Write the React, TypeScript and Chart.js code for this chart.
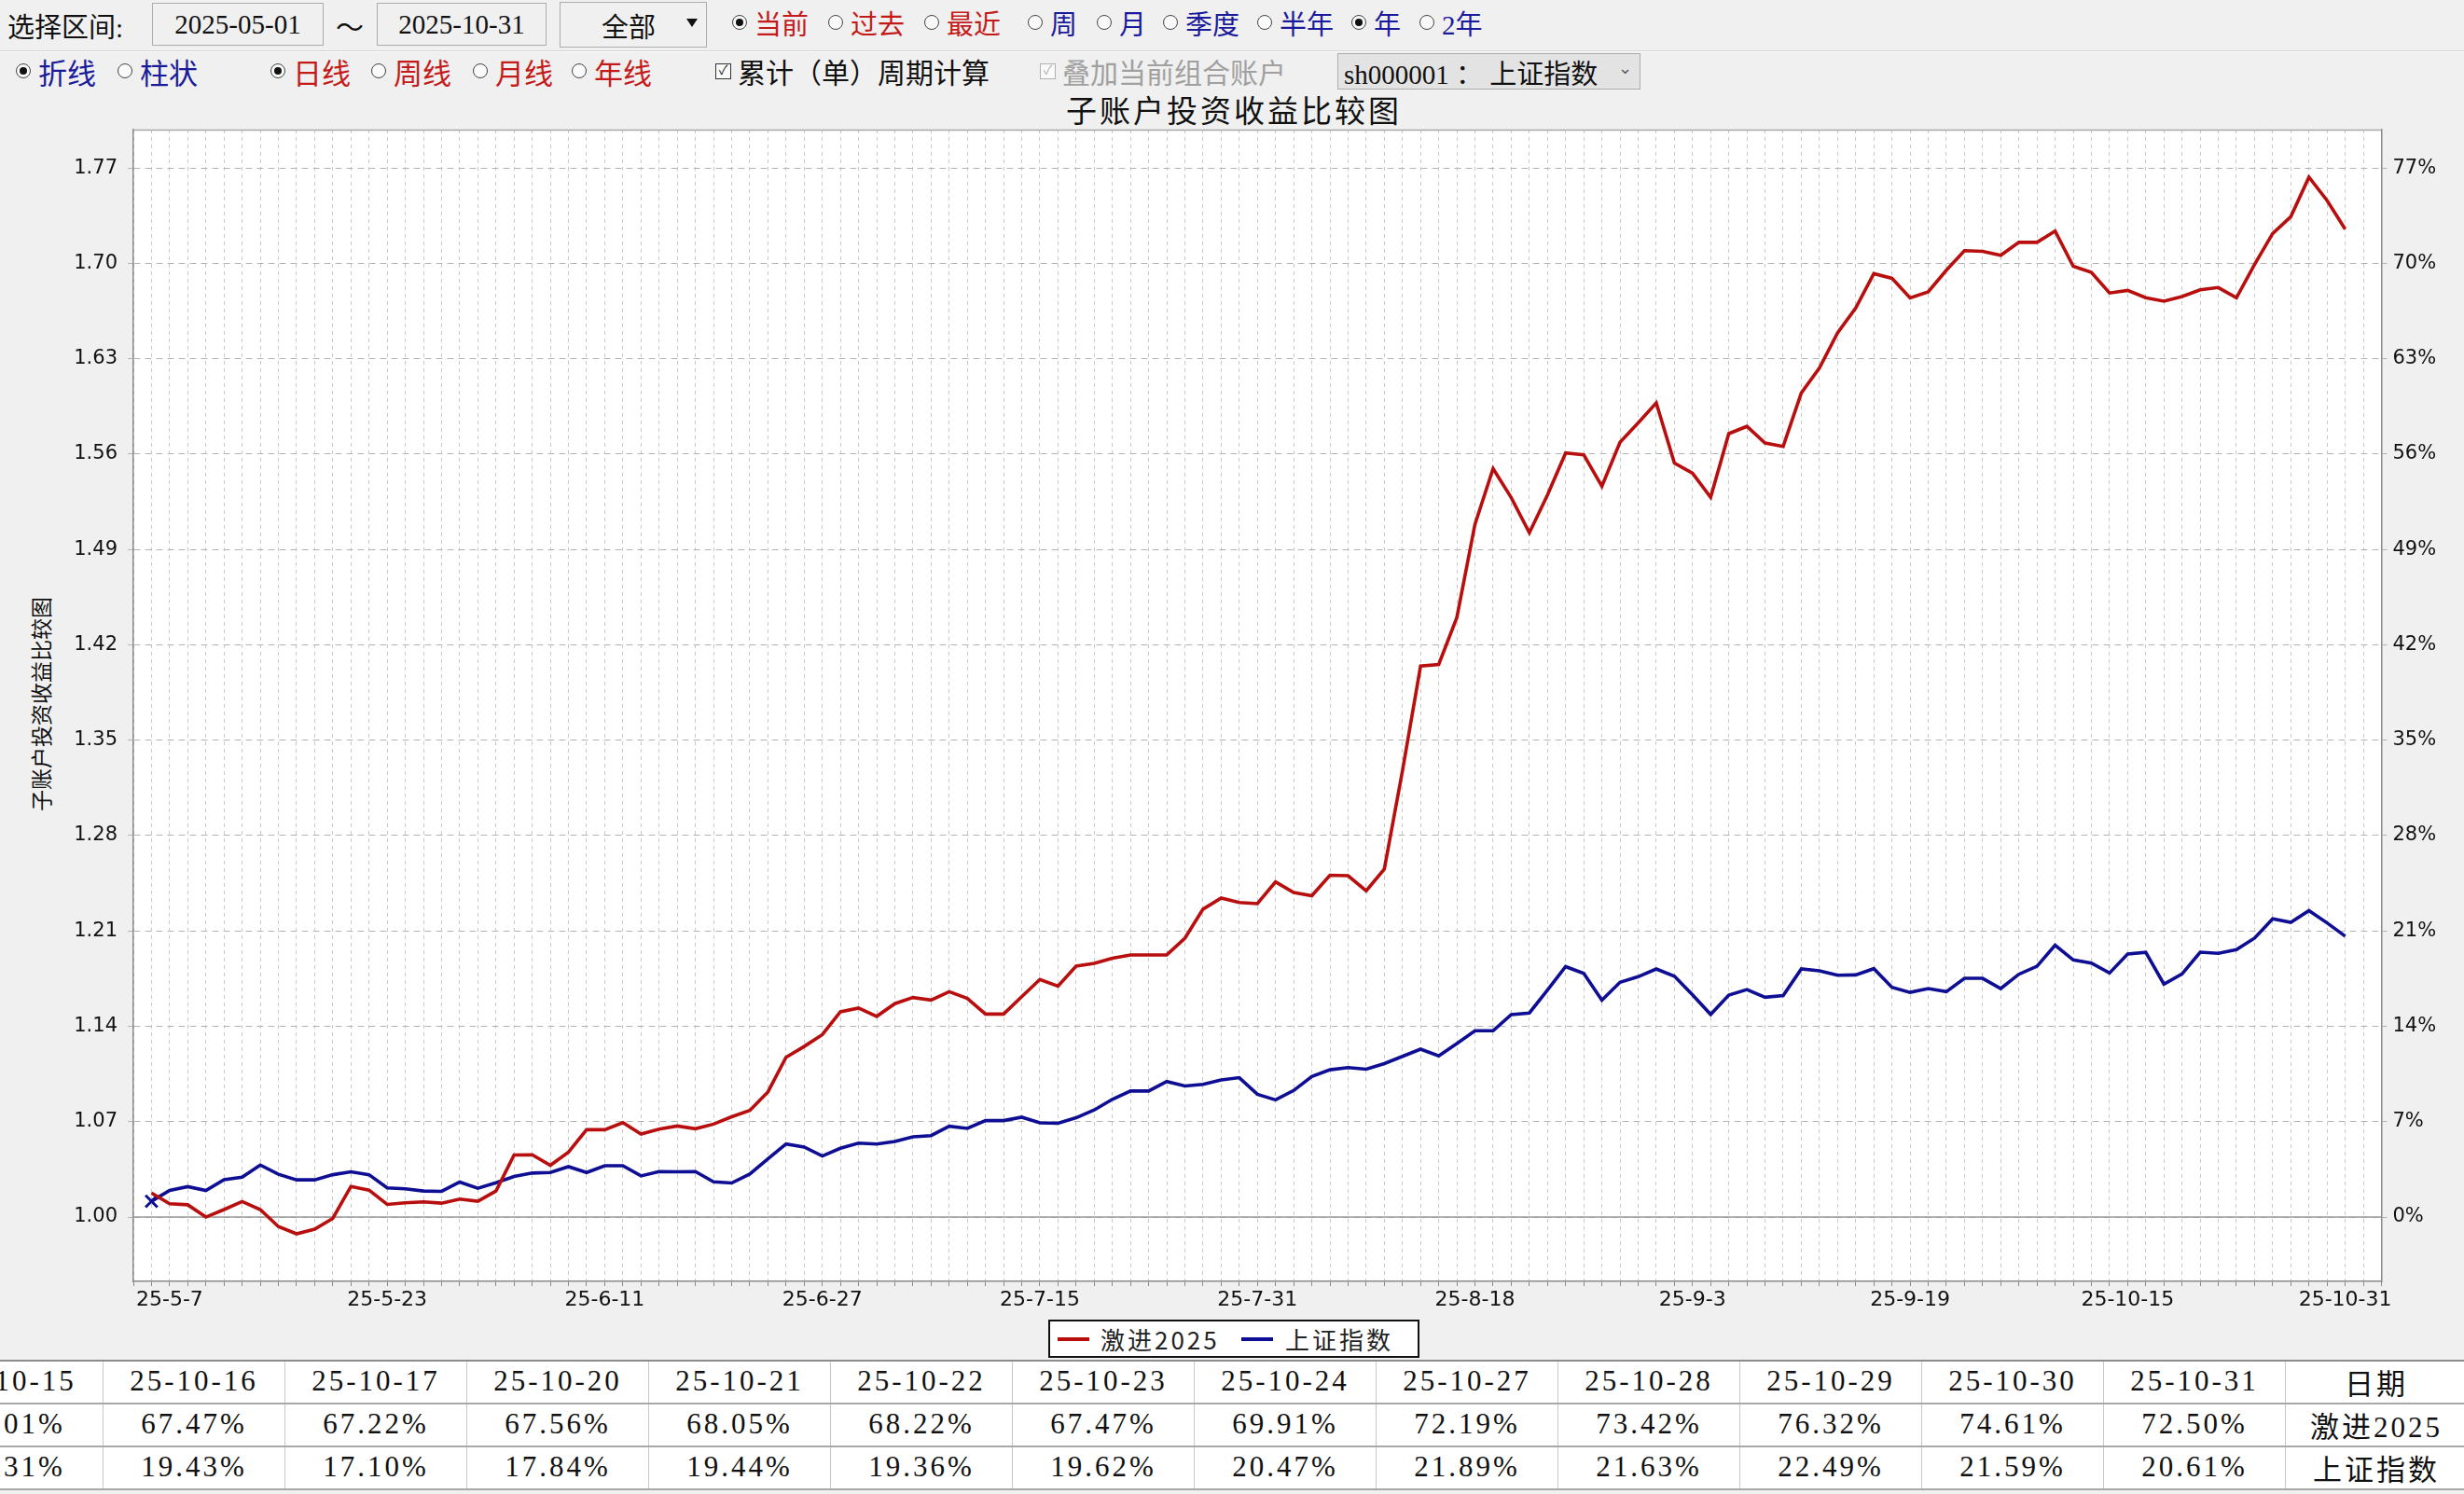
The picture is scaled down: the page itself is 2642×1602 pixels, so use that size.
import React, { useEffect, useRef } from 'react';
import { Chart, registerables } from 'chart.js';

Chart.register(...registerables);

// ---------- data ----------
const mayDays = [6, 7, 8, 9, 12, 13, 14, 15, 16, 19, 20, 21, 22, 23, 26, 27, 28, 29, 30];
const junDays = [3, 4, 5, 6, 9, 10, 11, 12, 13, 16, 17, 18, 19, 20, 23, 24, 25, 26, 27, 30];
const julDays = [1, 2, 3, 4, 7, 8, 9, 10, 11, 14, 15, 16, 17, 18, 21, 22, 23, 24, 25, 28, 29, 30, 31];
const augDays = [1, 4, 5, 6, 7, 8, 11, 12, 13, 14, 15, 18, 19, 20, 21, 22, 25, 26, 27, 28, 29];
const sepDays = [1, 2, 3, 4, 5, 8, 9, 10, 11, 12, 15, 16, 17, 18, 19, 22, 23, 24, 25, 26, 29, 30];
const octDays = [9, 10, 13, 14, 15, 16, 17, 20, 21, 22, 23, 24, 27, 28, 29, 30, 31];

const dates: string[] = [
  ...mayDays.map((d) => `25-5-${d}`),
  ...junDays.map((d) => `25-6-${d}`),
  ...julDays.map((d) => `25-7-${d}`),
  ...augDays.map((d) => `25-8-${d}`),
  ...sepDays.map((d) => `25-9-${d}`),
  ...octDays.map((d) => `25-10-${d}`),
];

const seriesNames = ['激进2025', '上证指数'];

const aggressive2025 = [
  1.0177, 1.0098, 1.0090, 1.0000, 1.0055, 1.0114, 1.0055, 0.9930, 0.9877, 0.9911,
  0.9990, 1.0225, 1.0198, 1.0093, 1.0105, 1.0111, 1.0102, 1.0132, 1.0116, 1.0191,
  1.0455, 1.0457, 1.0380, 1.0477, 1.0641, 1.0641, 1.0693, 1.0609, 1.0645, 1.0668,
  1.0648, 1.0682, 1.0736, 1.0782, 1.0918, 1.1173, 1.1252, 1.1339, 1.1507, 1.1534,
  1.1473, 1.1566, 1.1611, 1.1593, 1.1654, 1.1605, 1.1490, 1.1490, 1.1617, 1.1744,
  1.1695, 1.1842, 1.1862, 1.1899, 1.1924, 1.1924, 1.1924, 1.2047, 1.2260, 1.2341,
  1.2309, 1.2300, 1.2460, 1.2382, 1.2358, 1.2509, 1.2505, 1.2395, 1.2554, 1.3275,
  1.4044, 1.4056, 1.4400, 1.5084, 1.5493, 1.5280, 1.5022, 1.5300, 1.5608, 1.5595,
  1.5363, 1.5686, 1.5828, 1.5975, 1.5534, 1.5460, 1.5282, 1.5750, 1.5803, 1.5681,
  1.5656, 1.6048, 1.6232, 1.6489, 1.6672, 1.6924, 1.6890, 1.6746, 1.6790, 1.6949,
  1.7093, 1.7088, 1.7059, 1.7154, 1.7154, 1.7237, 1.6978, 1.6934, 1.6782, 1.6801,
  1.6747, 1.6722, 1.6756, 1.6805, 1.6822, 1.6747, 1.6991, 1.7219, 1.7342, 1.7632,
  1.7461, 1.7250,
];

const shIndex = [
  1.0116, 1.0195, 1.0223, 1.0195, 1.0275, 1.0293, 1.0382, 1.0314, 1.0273, 1.0273,
  1.0311, 1.0332, 1.0311, 1.0214, 1.0207, 1.0191, 1.0189, 1.0257, 1.0211, 1.0252,
  1.0298, 1.0323, 1.0327, 1.0370, 1.0327, 1.0377, 1.0377, 1.0302, 1.0334, 1.0332,
  1.0334, 1.0259, 1.0250, 1.0316, 1.0427, 1.0536, 1.0514, 1.0448, 1.0505, 1.0543,
  1.0536, 1.0555, 1.0589, 1.0598, 1.0667, 1.0651, 1.0708, 1.0708, 1.0733, 1.0692,
  1.0688, 1.0729, 1.0786, 1.0864, 1.0925, 1.0925, 1.0995, 1.0962, 1.0974, 1.1007,
  1.1023, 1.0901, 1.0860, 1.0929, 1.1031, 1.1081, 1.1097, 1.1085, 1.1126, 1.1179,
  1.1232, 1.1183, 1.1273, 1.1367, 1.1367, 1.1486, 1.1498, 1.1666, 1.1838, 1.1788,
  1.1592, 1.1723, 1.1764, 1.1821, 1.1768, 1.1631, 1.1487, 1.1629, 1.1670, 1.1613,
  1.1626, 1.1821, 1.1807, 1.1775, 1.1777, 1.1823, 1.1686, 1.1649, 1.1677, 1.1654,
  1.1752, 1.1752, 1.1677, 1.1782, 1.1841, 1.1995, 1.1887, 1.1864, 1.1791, 1.1931,
  1.1943, 1.1710, 1.1784, 1.1944, 1.1936, 1.1962, 1.2047, 1.2189, 1.2163, 1.2249,
  1.2159, 1.2061,
];

const yTicks = [1.0, 1.07, 1.14, 1.21, 1.28, 1.35, 1.42, 1.49, 1.56, 1.63, 1.7, 1.77];
const xTickLabels = ['25-5-7', '25-5-23', '25-6-11', '25-6-27', '25-7-15', '25-7-31', '25-8-18', '25-9-3', '25-9-19', '25-10-15', '25-10-31'];
const tableFirstDate = '25-10-15';

const Y_MIN = 0.9528;
const Y_MAX = 1.7981;
const RED = '#b80e0e';
const BLUE = '#0e0e94';
const UI_RED = '#c41a1a';
const UI_BLUE = '#1a1a9c';
const SERIF = '"Liberation Serif", "Noto Sans CJK SC", serif';
const CJK = '"Noto Sans CJK SC", "Liberation Serif", sans-serif';

// ---------- small UI pieces ----------
function Radio({ x, y, on, label, color, size = 28 }: { x: number; y: number; on?: boolean; label: string; color: string; size?: number }) {
  return (
    <div style={{ position: 'absolute', left: x, top: y - 18, height: 36, display: 'flex', alignItems: 'center', whiteSpace: 'nowrap' }}>
      <span style={{ width: 16, height: 16, borderRadius: '50%', border: '1.5px solid #444', background: '#fafafa', display: 'inline-flex', alignItems: 'center', justifyContent: 'center', boxSizing: 'border-box' }}>
        {on ? <span style={{ width: 8, height: 8, borderRadius: '50%', background: '#111' }} /> : null}
      </span>
      <span style={{ marginLeft: 8, color, fontSize: size, fontFamily: SERIF }}>{label}</span>
    </div>
  );
}

function Check({ x, y, label, color, disabled }: { x: number; y: number; label: string; color: string; disabled?: boolean }) {
  return (
    <div style={{ position: 'absolute', left: x, top: y - 18, height: 36, display: 'flex', alignItems: 'center', whiteSpace: 'nowrap' }}>
      <span style={{ width: 17, height: 17, border: `1.5px solid ${disabled ? '#b0b0b0' : '#333'}`, background: '#fafafa', boxSizing: 'border-box', display: 'inline-flex', alignItems: 'center', justifyContent: 'center', fontSize: 14, color: disabled ? '#b0b0b0' : '#222', lineHeight: 1 }}>✓</span>
      <span style={{ marginLeft: 7, color, fontSize: 30, fontFamily: SERIF }}>{label}</span>
    </div>
  );
}

function Box({ x, y, w, h, children, align = 'center' }: any) {
  return (
    <div style={{ position: 'absolute', left: x, top: y, width: w, height: h, border: '1.5px solid #adadad', boxSizing: 'border-box', background: '#f0f0f0', display: 'flex', alignItems: 'center', justifyContent: align, fontFamily: SERIF, fontSize: 29, color: '#111', whiteSpace: 'nowrap' }}>
      {children}
    </div>
  );
}

const fmtPct = (v: number) => ((v - 1) * 100).toFixed(2) + '%';

export default function App() {
  const canvasRef = useRef<HTMLCanvasElement | null>(null);

  useEffect(() => {
    const canvas = canvasRef.current;
    if (!canvas) return;

    const framePlugin = {
      id: 'frame',
      beforeDraw(chart: any) {
        const { ctx, chartArea: a } = chart;
        ctx.save();
        ctx.fillStyle = '#ffffff';
        ctx.fillRect(a.left, a.top, a.right - a.left, a.bottom - a.top);
        ctx.restore();
      },
      beforeDatasetsDraw(chart: any) {
        const { ctx, chartArea: a, scales } = chart;
        const y1 = scales.y.getPixelForValue(1.0);
        ctx.save();
        ctx.strokeStyle = '#9a9a9a';
        ctx.lineWidth = 1.5;
        ctx.beginPath();
        ctx.moveTo(a.left, y1);
        ctx.lineTo(a.right, y1);
        ctx.stroke();
        ctx.strokeStyle = '#a8a8a8';
        ctx.lineWidth = 1.5;
        ctx.beginPath();
        ctx.moveTo(a.left, a.top + 0.5);
        ctx.lineTo(a.right, a.top + 0.5);
        ctx.stroke();
        ctx.restore();
      },
    };

    const tickFont = { family: '"DejaVu Sans", "Liberation Sans", sans-serif', size: 21 };

    const chart = new Chart(canvas, {
      type: 'line',
      data: {
        datasets: [
          {
            label: seriesNames[0],
            data: aggressive2025.map((v, i) => ({ x: i, y: v })),
            borderColor: RED,
            borderWidth: 3.6,
            pointRadius: 0,
            tension: 0,
            yAxisID: 'y',
          },
          {
            label: seriesNames[1],
            data: shIndex.map((v, i) => ({ x: i, y: v })),
            borderColor: BLUE,
            borderWidth: 3.6,
            pointRadius: (ctx: any) => (ctx.dataIndex === 0 ? 9 : 0),
            pointStyle: 'crossRot',
            pointBorderColor: BLUE,
            pointBorderWidth: 3,
            tension: 0,
            yAxisID: 'y',
          },
        ],
      },
      options: {
        animation: false,
        responsive: false,
        devicePixelRatio: 1,
        layout: { padding: { top: 39, left: 0, right: 0, bottom: 0 } },
        plugins: { legend: { display: false }, tooltip: { enabled: false }, title: { display: false } },
        scales: {
          x: {
            type: 'linear',
            min: -1,
            max: 123,
            afterFit: (s: any) => { s.height = 56; },
            ticks: {
              stepSize: 1,
              autoSkip: false,
              maxRotation: 0,
              minRotation: 0,
              padding: 2,
              color: '#111',
              font: { ...tickFont, size: 22 },
              callback: (v: any) => {
                const i = Math.round(Number(v));
                const d = dates[i];
                return d && xTickLabels.includes(d) ? d : '';
              },
            },
            grid: { color: '#c8c8c8', lineWidth: 1, drawTicks: true, tickLength: 5, tickColor: '#8a8a8a' },
            border: { display: true, color: '#8a8a8a', width: 1.5, dash: [4, 4] },
          },
          y: {
            position: 'left',
            min: Y_MIN,
            max: Y_MAX,
            afterBuildTicks: (s: any) => { s.ticks = yTicks.map((v) => ({ value: v })); },
            afterFit: (s: any) => { s.width = 143; },
            ticks: { padding: 11, color: '#111', font: tickFont, callback: (v: any) => Number(v).toFixed(2) },
            grid: { color: '#b4b4b4', lineWidth: 1, tickLength: 6, tickColor: '#b4b4b4' },
            border: { display: true, color: '#8a8a8a', width: 1.5, dash: [7, 5] },
          },
          y2: {
            position: 'right',
            min: Y_MIN,
            max: Y_MAX,
            afterBuildTicks: (s: any) => { s.ticks = yTicks.map((v) => ({ value: v })); },
            afterFit: (s: any) => { s.width = 88.5; },
            ticks: { padding: 6, color: '#111', font: tickFont, callback: (v: any) => Math.round((Number(v) - 1) * 100) + '%' },
            grid: { drawOnChartArea: false, tickLength: 6, tickColor: '#b4b4b4' },
            border: { display: true, color: '#8a8a8a', width: 1.5 },
          },
        },
      } as any,
      plugins: [framePlugin],
    });

    return () => chart.destroy();
  }, []);

  const tStart = dates.indexOf(tableFirstDate);
  const tDates = dates.slice(tStart);
  const colW = 195;
  const tLeft = -85;
  const tTop = 1458;
  const rowH = 46;
  const tableCols = [
    ...tDates.map((d, k) => ({ head: d, r1: fmtPct(aggressive2025[tStart + k]), r2: fmtPct(shIndex[tStart + k]) })),
    { head: '日期', r1: seriesNames[0], r2: seriesNames[1] },
  ];

  return (
    <div style={{ position: 'fixed', left: 0, top: 0, width: 2642, height: 1602, background: '#f0f0f0', overflow: 'hidden', fontFamily: SERIF }}>
      {/* Row 1 */}
      <div style={{ position: 'absolute', left: 8, top: 6, fontSize: 29, color: '#111', whiteSpace: 'nowrap' }}>选择区间:</div>
      <Box x={163} y={3} w={184} h={46}>2025-05-01</Box>
      <div style={{ position: 'absolute', left: 360, top: 5, fontSize: 30, color: '#111' }}>～</div>
      <Box x={404} y={3} w={182} h={46}>2025-10-31</Box>
      <Box x={600} y={2} w={158} h={49} align="flex-start">
        <span style={{ marginLeft: 44 }}>全部</span>
        <span style={{ position: 'absolute', left: 135, top: 17, width: 0, height: 0, borderLeft: '6px solid transparent', borderRight: '6px solid transparent', borderTop: '9px solid #111' }} />
      </Box>
      <Radio x={785} y={24} on label="当前" color={UI_RED} size={29} />
      <Radio x={888} y={24} label="过去" color={UI_RED} size={29} />
      <Radio x={991} y={24} label="最近" color={UI_RED} size={29} />
      <Radio x={1102} y={24} label="周" color={UI_BLUE} size={29} />
      <Radio x={1176} y={24} label="月" color={UI_BLUE} size={29} />
      <Radio x={1247} y={24} label="季度" color={UI_BLUE} size={29} />
      <Radio x={1348} y={24} label="半年" color={UI_BLUE} size={29} />
      <Radio x={1449} y={24} on label="年" color={UI_BLUE} size={29} />
      <Radio x={1522} y={24} label="2年" color={UI_BLUE} size={29} />
      <div style={{ position: 'absolute', left: 0, top: 54, width: 2642, height: 1, background: '#d4d4d4' }} />
      <div style={{ position: 'absolute', left: 0, top: 55, width: 2642, height: 1, background: '#fbfbfb' }} />

      {/* Row 2 */}
      <Radio x={17} y={76} on label="折线" color={UI_BLUE} size={31} />
      <Radio x={126} y={76} label="柱状" color={UI_BLUE} size={31} />
      <Radio x={290} y={76} on label="日线" color={UI_RED} size={31} />
      <Radio x={398} y={76} label="周线" color={UI_RED} size={31} />
      <Radio x={507} y={76} label="月线" color={UI_RED} size={31} />
      <Radio x={613} y={76} label="年线" color={UI_RED} size={31} />
      <Check x={767} y={76} label="累计（单）周期计算" color="#111" />
      <Check x={1115} y={76} label="叠加当前组合账户" color="#a0a0a0" disabled />
      <div style={{ position: 'absolute', left: 1434, top: 57, width: 325, height: 39, border: '1.5px solid #adadad', boxSizing: 'border-box', background: '#e3e3e3', display: 'flex', alignItems: 'center', fontSize: 29, color: '#111', whiteSpace: 'nowrap' }}>
        <span style={{ marginLeft: 6 }}>sh000001 ： 上证指数</span>
        <span style={{ position: 'absolute', right: 8, top: 4, fontSize: 18, color: '#555' }}>⌄</span>
      </div>

      {/* Chart title */}
      <div style={{ position: 'absolute', left: 1323 - 250, top: 93, width: 500, textAlign: 'center', fontSize: 33, color: '#111', letterSpacing: 3, fontFamily: SERIF }}>子账户投资收益比较图</div>

      {/* Y axis title */}
      <div style={{ position: 'absolute', left: 46 - 150, top: 755 - 16, width: 300, height: 32, lineHeight: '32px', textAlign: 'center', transform: 'rotate(-90deg)', fontSize: 23, color: '#111', fontFamily: SERIF }}>子账户投资收益比较图</div>

      {/* Chart canvas */}
      <canvas ref={canvasRef} width={2642} height={1330} style={{ position: 'absolute', left: 0, top: 100, width: 2642, height: 1330, display: 'block' }} />

      {/* Legend */}
      <div style={{ position: 'absolute', left: 1124, top: 1415, width: 398, height: 41, border: '2px solid #111', boxSizing: 'border-box', background: '#fff' }}>
        <div style={{ position: 'absolute', left: 8, top: 17, width: 34, height: 4, background: RED }} />
        <div style={{ position: 'absolute', left: 54, top: 1, fontSize: 26, letterSpacing: 3, color: '#222', fontFamily: CJK, lineHeight: '36px', whiteSpace: 'nowrap' }}>{seriesNames[0]}</div>
        <div style={{ position: 'absolute', left: 205, top: 17, width: 34, height: 4, background: BLUE }} />
        <div style={{ position: 'absolute', left: 252, top: 1, fontSize: 26, letterSpacing: 3, color: '#222', fontFamily: CJK, lineHeight: '36px', whiteSpace: 'nowrap' }}>{seriesNames[1]}</div>
      </div>

      {/* Data table */}
      <div style={{ position: 'absolute', left: 0, top: tTop, width: 2642, height: rowH * 3 + 2, background: '#fff' }} />
      {tableCols.map((c, k) => (
        <React.Fragment key={k}>
          {[c.head, c.r1, c.r2].map((txt, r) => (
            <div key={r} style={{ position: 'absolute', left: tLeft + k * colW, top: tTop + r * rowH, width: colW, height: rowH, boxSizing: 'border-box', borderLeft: '1px solid #c8c8c8', display: 'flex', alignItems: 'center', justifyContent: 'center', fontSize: 31, letterSpacing: 3, color: '#111', fontFamily: SERIF, whiteSpace: 'nowrap' }}>{txt}</div>
          ))}
        </React.Fragment>
      ))}
      {[0, 1, 2, 3].map((r) => (
        <div key={r} style={{ position: 'absolute', left: 0, top: tTop + r * rowH, width: 2642, height: 1.5, background: r === 0 ? '#8c8c8c' : '#a8a8a8' }} />
      ))}
    </div>
  );
}
